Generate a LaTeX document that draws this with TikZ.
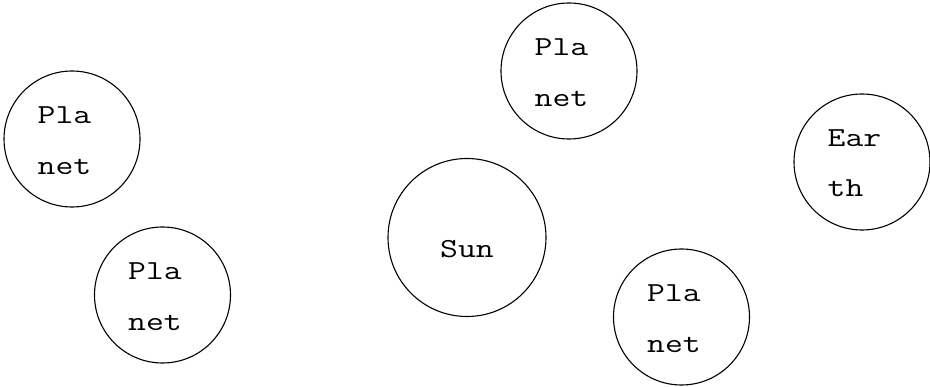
\documentclass[tikz,border=0pt]{standalone}
\usepackage{graphicx}
\newcommand{\wid}[1]{\scalebox{1.26}[1]{#1}}
\begin{document}
\begin{tikzpicture}[x=1pt,y=-1pt,
  body/.style={circle,draw,line width=1.1pt,minimum size=136pt,inner sep=0pt},
  bigbody/.style={body,minimum size=158pt},
  txt/.style={anchor=base,inner sep=0pt,font=\ttfamily\fontsize{27.5pt}{27.5pt}\selectfont}]
\useasboundingbox (0,0) rectangle (930,387);
% circles
\node[body] (p1) at (72,139) {};
\node[body] (p2) at (162.5,295) {};
\node[body] (p3) at (569,71) {};
\node[bigbody] (sun) at (467,237.5) {};
\node[body] (earth) at (862,162) {};
\node[body] (p4) at (681.5,317) {};
% labels
\node[txt] (p1a) at ([xshift=-7.5pt,yshift=15pt]p1.center) {\wid{Pla}};
\node[txt] (p1b) at ([xshift=-7.5pt,yshift=-36pt]p1.center) {\wid{net}};
\node[txt] (p2a) at ([xshift=-7.5pt,yshift=15pt]p2.center) {\wid{Pla}};
\node[txt] (p2b) at ([xshift=-7.5pt,yshift=-36pt]p2.center) {\wid{net}};
\node[txt] (p3a) at ([xshift=-7.5pt,yshift=15pt]p3.center) {\wid{Pla}};
\node[txt] (p3b) at ([xshift=-7.5pt,yshift=-36pt]p3.center) {\wid{net}};
\node[txt] (p4a) at ([xshift=-7.5pt,yshift=15pt]p4.center) {\wid{Pla}};
\node[txt] (p4b) at ([xshift=-7.5pt,yshift=-36pt]p4.center) {\wid{net}};
\node[txt] (ea) at ([xshift=-7.5pt,yshift=15pt]earth.center) {\wid{Ear}};
\node[txt,anchor=base west] (eb) at ([yshift=-50pt]ea.base west) {\wid{th}};
\node[txt] (sunl) at ([yshift=-20pt]sun.center) {\wid{Sun}};
\end{tikzpicture}
\end{document}
